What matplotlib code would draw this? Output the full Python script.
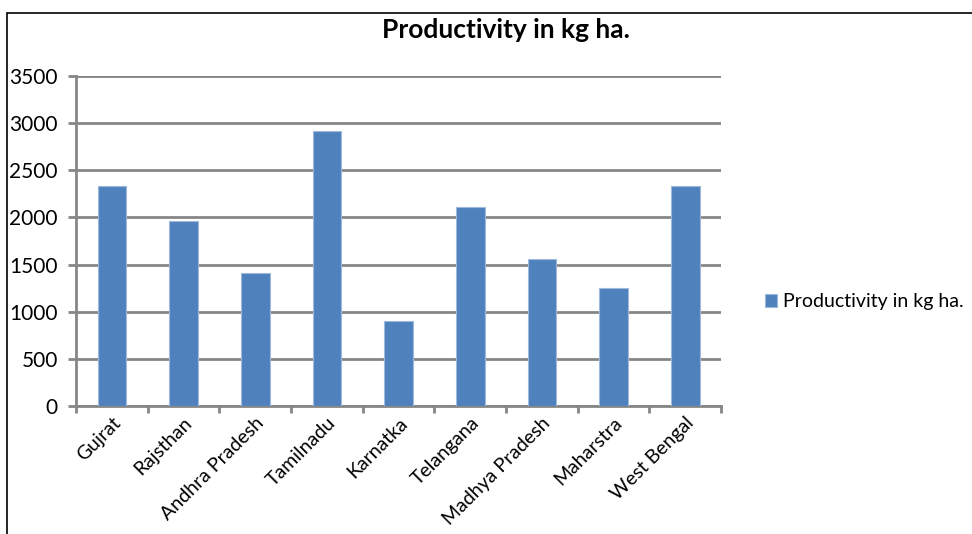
import numpy as np
import matplotlib.pyplot as plt
from matplotlib.patches import Rectangle

states = ['Gujrat', 'Rajsthan', 'Andhra Pradesh', 'Tamilnadu', 'Karnatka',
          'Telangana', 'Madhya Pradesh', 'Maharstra', 'West Bengal']
productivity = [2335, 1965, 1410, 2912, 906, 2110, 1555, 1250, 2333]
yticks = [0, 500, 1000, 1500, 2000, 2500, 3000, 3500]

plt.rcParams['font.family'] = ['Lato', 'DejaVu Sans']

bar_color = '#4F81BD'
grid_color = '#868686'

fig = plt.figure(figsize=(9.72, 5.34), dpi=100)
ax = fig.add_axes([0.0782, 0.2397, 0.6636, 0.618])

x = np.arange(len(states))
ax.bar(x, productivity, width=0.4, color=bar_color, edgecolor='#9DB9DC',
       linewidth=0.8, zorder=3, label='Productivity in kg ha.')

ax.set_xlim(-0.5, len(states) - 0.5)
ax.set_ylim(0, 3500)
ax.set_yticks(yticks)
ax.set_yticklabels([str(v) for v in yticks], fontsize=15)
ax.yaxis.grid(True, color=grid_color, linewidth=2, zorder=0)

# category boundaries carry the x tick marks, labels sit at bar centres
ax.set_xticks(np.arange(len(states) + 1) - 0.5)
ax.set_xticklabels([])
ax.set_xticks(x, minor=True)
ax.set_xticklabels(states, minor=True, rotation=45, ha='right',
                   rotation_mode='anchor', fontsize=14)
ax.tick_params(axis='x', which='minor', length=0, pad=6)
ax.tick_params(axis='x', which='major', length=5, width=2, color=grid_color)
ax.tick_params(axis='y', length=6, width=2, color=grid_color, pad=7)

for side in ['top', 'right']:
    ax.spines[side].set_visible(False)
for side in ['left', 'bottom']:
    ax.spines[side].set_color(grid_color)
    ax.spines[side].set_linewidth(2)

fig.text(0.52, 0.943, 'Productivity in kg ha.', ha='center', va='center',
         fontsize=19, fontweight='bold')

fig.legend(loc='center left', bbox_to_anchor=(0.787, 0.435), frameon=False,
           fontsize=14, handlelength=0.6, handleheight=0.6,
           handletextpad=0.35, borderpad=0, borderaxespad=0)

# outer chart frame
fig.patches.append(Rectangle((7 / 972, -0.1), 1.2, 1 - 13 / 534 + 0.1,
                             transform=fig.transFigure, fill=False,
                             edgecolor='black', linewidth=1.2))

fig.savefig('out.png', dpi=100)
